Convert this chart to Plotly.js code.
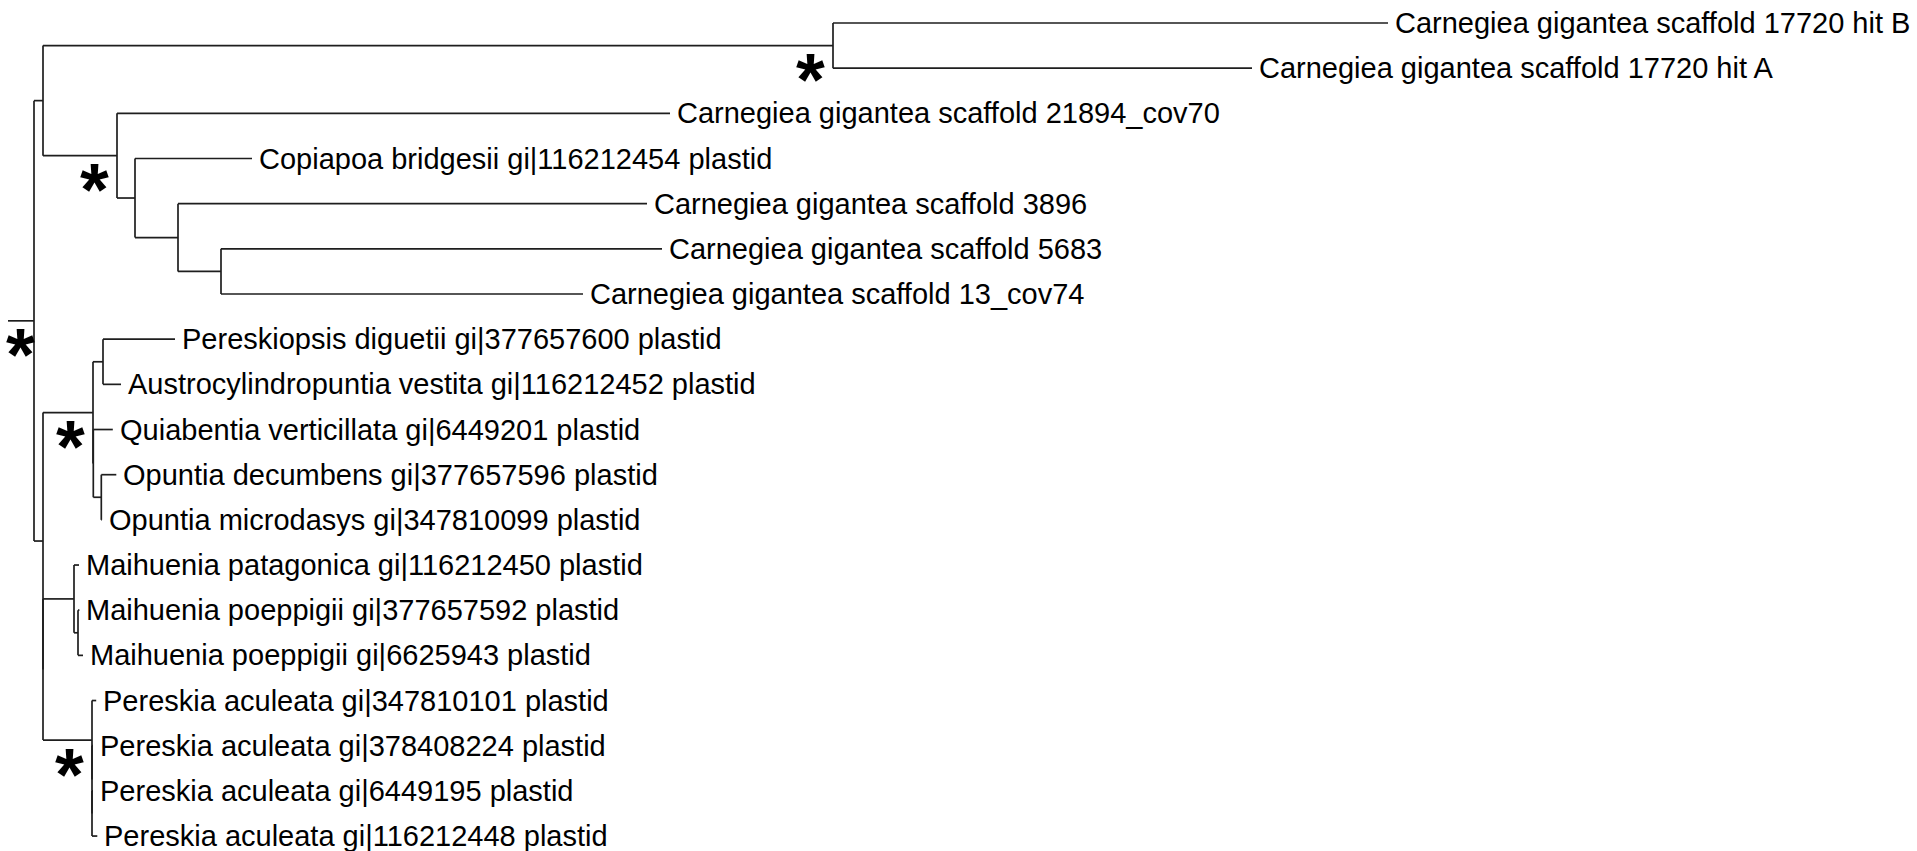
<!DOCTYPE html>
<html><head><meta charset="utf-8">
<script src="https://cdn.plot.ly/plotly-3.0.1.min.js"></script>
<style>html,body{margin:0;padding:0;background:#fff;overflow:hidden;} #chart{width:1917px;height:851px;}</style>
</head><body><div id="chart"></div>
<script>
// Tip labels, top to bottom (leaf numbers in the tree string index this list)
const tipNames = [
  "Carnegiea gigantea scaffold 17720 hit B",
  "Carnegiea gigantea scaffold 17720 hit A",
  "Carnegiea gigantea scaffold 21894_cov70",
  "Copiapoa bridgesii gi|116212454 plastid",
  "Carnegiea gigantea scaffold 3896",
  "Carnegiea gigantea scaffold 5683",
  "Carnegiea gigantea scaffold 13_cov74",
  "Pereskiopsis diguetii gi|377657600 plastid",
  "Austrocylindropuntia vestita gi|116212452 plastid",
  "Quiabentia verticillata gi|6449201 plastid",
  "Opuntia decumbens gi|377657596 plastid",
  "Opuntia microdasys gi|347810099 plastid",
  "Maihuenia patagonica gi|116212450 plastid",
  "Maihuenia poeppigii gi|377657592 plastid",
  "Maihuenia poeppigii gi|6625943 plastid",
  "Pereskia aculeata gi|347810101 plastid",
  "Pereskia aculeata gi|378408224 plastid",
  "Pereskia aculeata gi|6449195 plastid",
  "Pereskia aculeata gi|116212448 plastid"
];

// Tree topology with branch lengths (Newick); "*" marks supported nodes
const treeNewick =
  "((((0:0.555,1:0.419)*:0.790," +
  "(2:0.553,(3:0.117,(4:0.469,(5:0.441,6:0.362):0.043):0.043):0.018)*:0.074):0.009," +
  "(((7:0.072,8:0.018):0.010,(9:0.0195,(10:0.015,11:0.0006):0.008):0.0003)*:0.050," +
  "((12:0.005,(13:0.0014,14:0.005):0.004):0.031," +
  "(15:0.0042,(16:0.0009,(17:0.0009,18:0.0053):0):0)*:0.049):0):0.009)*:0.026;";

const supportLabel = "*";

function parseNewick(s) {
  let i = 0;
  function node() {
    const n = { children: [] };
    if (s[i] === '(') {
      i++;
      n.children.push(node());
      while (s[i] === ',') { i++; n.children.push(node()); }
      i++; // ')'
    }
    let lab = '';
    while (i < s.length && !':,);'.includes(s[i])) lab += s[i++];
    n.label = lab;
    n.len = 0;
    if (s[i] === ':') {
      i++;
      let num = '';
      while (i < s.length && !',);'.includes(s[i])) num += s[i++];
      n.len = parseFloat(num);
    }
    return n;
  }
  return node();
}

const root = parseNewick(treeNewick);

// layout: x = cumulative branch length, y = tip order
function place(n, px) {
  n.px = px;
  n.x = px + n.len;
  if (n.children.length === 0) {
    n.y = parseInt(n.label, 10);
  } else {
    n.children.forEach(c => place(c, n.x));
    n.y = (n.children[0].y + n.children[n.children.length - 1].y) / 2;
  }
}
place(root, 0);

const lx = [], ly = [];
const annotations = [];
const supports = [];
function walk(n) {
  lx.push(n.px, n.x, null); ly.push(n.y, n.y, null);
  if (n.children.length) {
    const a = n.children[0], b = n.children[n.children.length - 1];
    lx.push(n.x, n.x, null); ly.push(a.y, b.y, null);
    if (n.label === supportLabel) supports.push(n);
    n.children.forEach(walk);
  } else {
    annotations.push({
      x: n.x, y: n.y, xref: 'x', yref: 'y',
      text: tipNames[parseInt(n.label, 10)],
      xanchor: 'left', yanchor: 'middle', xshift: 7,
      showarrow: false, borderpad: 0, borderwidth: 0,
      font: { family: 'Liberation Sans, Arial, Helvetica, sans-serif', size: 29, color: '#000' }
    });
  }
}
walk(root);

const W = 1917, H = 851;
const xRange = [-0.008, 1.909];
const yRange = [18.331, -0.509];
const pxPerX = W / (xRange[1] - xRange[0]);

supports.forEach(n => {
  // support mark sits to the lower-left of its node; kept inside the figure
  const nodePx = (n.x - xRange[0]) * pxPerX;
  let shift = -8;
  if (nodePx + shift - 27 < 8) shift = 8 + 27 - nodePx;
  annotations.push({
    x: n.x, y: n.y, xref: 'x', yref: 'y', text: '<b>' + supportLabel + '</b>',
    xanchor: 'right', yanchor: 'middle', xshift: shift, yshift: -34,
    showarrow: false, borderpad: 0, borderwidth: 0,
    font: { family: 'Liberation Sans, Arial, Helvetica, sans-serif', size: 74, color: '#000' }
  });
});

const data = [{
  type: 'scatter', mode: 'lines', x: lx, y: ly,
  line: { color: '#1e1e1e', width: 1.7 }, hoverinfo: 'skip', connectgaps: false
}];

const layout = {
  width: W, height: H,
  margin: { l: 0, r: 0, t: 0, b: 0, pad: 0 },
  paper_bgcolor: '#fff', plot_bgcolor: '#fff',
  showlegend: false,
  xaxis: { range: xRange, autorange: false, visible: false, fixedrange: true },
  yaxis: { range: yRange, autorange: false, visible: false, fixedrange: true },
  annotations: annotations
};

Plotly.newPlot('chart', data, layout, { staticPlot: true, displayModeBar: false });
</script>
</body></html>
